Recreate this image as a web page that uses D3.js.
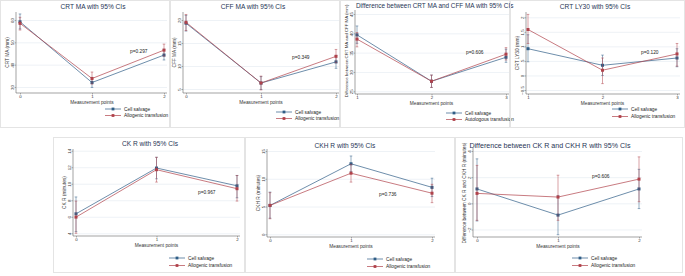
<!DOCTYPE html>
<html>
<head>
<meta charset="utf-8">
<script src="https://cdn.jsdelivr.net/npm/d3@7"></script>
<style>
  body { margin: 0; background: #fff; }
  svg { display: block; font-family: "Liberation Sans", Arial, sans-serif; }
</style>
</head>
<body>
<svg id="chart" width="685" height="276"></svg>
<script>
// series values: mean per measurement point + 95% CI [lo, hi]
const crtMaSalvage = [59.2, 32.0, 44.3];
const crtMaSalvageCI = [[56.0, 62.7], [29.8, 34.3], [42.1, 46.9]];
const crtMaAllo = [58.5, 33.8, 46.5];
const crtMaAlloCI = [[55.5, 61.2], [31.3, 36.7], [43.8, 49.2]];

const cffMaSalvage = [19.3, 6.3, 10.9];
const cffMaSalvageCI = [[17.6, 21.0], [4.9, 7.7], [9.5, 12.3]];
const cffMaAllo = [19.5, 6.3, 12.1];
const cffMaAlloCI = [[17.7, 21.2], [4.8, 7.8], [10.7, 13.6]];

const diffMaSalvage = [39.6, 27.6, 33.8];
const diffMaSalvageCI = [[37.4, 41.9], [26.0, 29.2], [32.5, 35.9]];
const diffMaAuto = [38.5, 27.6, 34.6];
const diffMaAutoCI = [[36.5, 40.2], [26.0, 29.2], [33.1, 36.3]];

const ly30Salvage = [0.92, 0.35, 0.6];
const ly30SalvageCI = [[0.47, 1.4], [0.0, 0.7], [0.3, 0.92]];
const ly30Allo = [1.58, 0.18, 0.74];
const ly30AlloCI = [[1.1, 2.1], [-0.28, 0.6], [0.32, 1.1]];

const ckRSalvage = [6.36, 11.9, 9.75];
const ckRSalvageCI = [[4.2, 8.4], [10.6, 13.2], [8.3, 11.0]];
const ckRAllo = [5.96, 11.7, 9.4];
const ckRAlloCI = [[4.0, 7.9], [10.2, 13.2], [7.9, 11.0]];

const ckhRSalvage = [5.2, 12.7, 8.45];
const ckhRSalvageCI = [[2.9, 7.6], [11.3, 14.1], [6.8, 10.1]];
const ckhRAllo = [5.2, 11.0, 7.4];
const ckhRAlloCI = [[2.8, 7.5], [9.4, 12.6], [5.7, 9.0]];

const diffRSalvage = [1.1, -0.9, 1.1];
const diffRSalvageCI = [[-1.35, 3.4], [-2.4, 0.6], [-0.4, 2.6]];
const diffRAllo = [0.76, 0.48, 1.85];
const diffRAlloCI = [[-1.3, 2.9], [-1.3, 2.15], [0.12, 3.55]];

const pointsA = [0, 1, 2];
const pointsB = [1, 2, 3];
const legendAllo = ["Cell salvage", "Allogenic transfusion"];
const legendAuto = ["Cell salvage", "Autologous transfusion"];

const blue = "#2f5d86", red = "#b0424b";
const svg = d3.select("#chart");

function panel(c) {
  const g = svg.append("g");
  g.append("rect").attr("x", c.frame[0] + 0.5).attr("y", c.frame[1] + 0.5)
    .attr("width", c.frame[2] - 1).attr("height", c.frame[3] - 1)
    .attr("fill", "none").attr("stroke", "#e4e4e4");

  const x = d3.scaleLinear().domain(d3.extent(c.points)).range([c.x0, c.x2]);
  const y = d3.scaleLinear().domain([c.ticks[0], c.ticks[c.ticks.length - 1]]).range(c.yPx);

  // gridlines
  g.append("g").attr("transform", `translate(${c.axisX},0)`)
    .call(d3.axisLeft(y).tickValues(c.ticks).tickSize(-(c.right - c.axisX)).tickFormat(""))
    .call(s => s.select(".domain").remove())
    .call(s => s.selectAll("line").attr("stroke", "#e3eaf0").attr("stroke-width", 0.6));

  // y axis, labels turned like Stata's vertical tick labels
  const ya = g.append("g").attr("transform", `translate(${c.axisX},0)`)
    .call(d3.axisLeft(y).tickValues(c.ticks).tickSize(1.5).tickPadding(1).tickFormat(c.fmt || d3.format("")));
  ya.select(".domain").attr("d", `M0,${c.top}V${c.axisY}`).attr("stroke", "#666").attr("stroke-width", 0.6);
  ya.selectAll(".tick line").attr("stroke", "#666").attr("stroke-width", 0.5);
  ya.selectAll(".tick text").attr("font-size", 4.4).attr("fill", "#333")
    .attr("transform", "rotate(-90)").attr("x", 0).attr("y", -2.2).attr("dy", 0)
    .attr("text-anchor", "middle");

  // x axis
  const xa = g.append("g").attr("transform", `translate(0,${c.axisY})`)
    .call(d3.axisBottom(x).tickValues(c.points).tickSize(1.5).tickPadding(0.8).tickFormat(d3.format("d")));
  xa.select(".domain").attr("d", `M${c.axisX},0H${c.right}`).attr("stroke", "#666").attr("stroke-width", 0.6);
  xa.selectAll(".tick line").attr("stroke", "#666").attr("stroke-width", 0.5);
  xa.selectAll(".tick text").attr("font-size", 4.4).attr("fill", "#333");

  g.append("text").attr("x", (c.x0 + c.x2) / 2).attr("y", c.axisY + 11)
    .attr("text-anchor", "middle").attr("font-size", 4.8).attr("fill", "#333")
    .text("Measurement points");
  const ylabY = c.ylabY || (c.top + c.axisY) / 2;
  g.append("text").attr("transform", `translate(${c.axisX - 6.8},${ylabY}) rotate(-90)`)
    .attr("text-anchor", "middle").attr("font-size", c.ylabSize || 4.8).attr("fill", "#333").text(c.ylab);

  g.append("text").attr("x", c.titleX).attr("y", c.titleY)
    .attr("text-anchor", c.titleAnchor || "middle").attr("font-size", c.titleSize || 6.6)
    .attr("fill", "#1f3555").text(c.title);

  const series = [
    { vals: c.s1, ci: c.s1ci, color: blue },
    { vals: c.s2, ci: c.s2ci, color: red }
  ];
  series.forEach(s => {
    const pts = c.points.map((p, i) => ({ p, v: s.vals[i], lo: s.ci[i][0], hi: s.ci[i][1] }));
    g.append("path").datum(pts)
      .attr("d", d3.line().x(d => x(d.p)).y(d => y(d.v)))
      .attr("fill", "none").attr("stroke", s.color).attr("stroke-width", 0.7);
    const eb = g.selectAll(null).data(pts).enter().append("g").attr("stroke", s.color).attr("stroke-width", 0.5);
    eb.append("line").attr("x1", d => x(d.p)).attr("x2", d => x(d.p)).attr("y1", d => y(d.lo)).attr("y2", d => y(d.hi));
    eb.append("line").attr("x1", d => x(d.p) - 1.3).attr("x2", d => x(d.p) + 1.3).attr("y1", d => y(d.lo)).attr("y2", d => y(d.lo));
    eb.append("line").attr("x1", d => x(d.p) - 1.3).attr("x2", d => x(d.p) + 1.3).attr("y1", d => y(d.hi)).attr("y2", d => y(d.hi));
    g.selectAll(null).data(pts).enter().append("rect")
      .attr("x", d => x(d.p) - 1.5).attr("y", d => y(d.v) - 1.5).attr("width", 3).attr("height", 3)
      .attr("fill", s.color);
  });

  g.append("text").attr("x", c.pPos[0]).attr("y", c.pPos[1]).attr("font-size", 4.8).attr("fill", "#222").text(c.p);

  // legend
  c.legend.forEach((name, i) => {
    const ly = c.legY + i * c.legGap;
    const col = i === 0 ? blue : red;
    g.append("line").attr("x1", c.legX).attr("x2", c.legX + c.legW).attr("y1", ly).attr("y2", ly)
      .attr("stroke", col).attr("stroke-width", 0.7);
    g.append("rect").attr("x", c.legX + c.legW / 2 - 1.4).attr("y", ly - 1.4).attr("width", 2.8).attr("height", 2.8).attr("fill", col);
    g.append("text").attr("x", c.legX + c.legW + 3).attr("y", ly + 1.7).attr("font-size", 4.8).attr("fill", "#222").text(name);
  });
}

panel({ frame: [0, 0, 170, 128], points: pointsA, x0: 20, x2: 164, axisX: 16, right: 167, top: 12, axisY: 93,
  ticks: [60, 50, 40, 30], yPx: [20, 87], ylab: "CRT MA (mm)",
  title: "CRT MA with 95% CIs", titleX: 93, titleY: 9,
  s1: crtMaSalvage, s1ci: crtMaSalvageCI, s2: crtMaAllo, s2ci: crtMaAlloCI,
  p: "p=0.297", pPos: [130, 53], legend: legendAllo, legX: 105, legY: 109, legGap: 6.5, legW: 16 });

panel({ frame: [170, 0, 170, 128], points: pointsA, x0: 186, x2: 336, axisX: 183, right: 339, top: 12, axisY: 93,
  ticks: [20, 15, 10, 5], yPx: [20, 89], ylab: "CFF MA (mm)",
  title: "CFF MA with 95% CIs", titleX: 253, titleY: 9,
  s1: cffMaSalvage, s1ci: cffMaSalvageCI, s2: cffMaAllo, s2ci: cffMaAlloCI,
  p: "p=0.349", pPos: [292, 59], legend: legendAllo, legX: 276, legY: 112, legGap: 6.5, legW: 16 });

panel({ frame: [340, 0, 170, 128], points: pointsB, x0: 357, x2: 506, axisX: 355, right: 509, top: 10, axisY: 94,
  ticks: [45, 40, 35, 30, 25], yPx: [14, 91.3], ylab: "Difference between CRT MA and CFF MA (mm)", ylabSize: 4.4, ylabY: 51,
  title: "Difference between CRT MA and CFF MA with 95% CIs", titleX: 356, titleY: 8, titleAnchor: "start", titleSize: 6.4,
  s1: diffMaSalvage, s1ci: diffMaSalvageCI, s2: diffMaAuto, s2ci: diffMaAutoCI,
  p: "p=0.606", pPos: [466, 54], legend: legendAuto, legX: 446, legY: 113, legGap: 6.5, legW: 16 });

panel({ frame: [510, 0, 175, 128], points: pointsB, x0: 528, x2: 677, axisX: 526, right: 680, top: 12, axisY: 94,
  ticks: [2, 1.5, 1, 0.5, 0, -0.5], yPx: [17.3, 90], ylab: "CRT LY30 (mm)",
  fmt: d => d3.format("")(d).replace(/^0\./, ".").replace(/^-0\./, "-."),
  title: "CRT LY30 with 95% CIs", titleX: 595, titleY: 9,
  s1: ly30Salvage, s1ci: ly30SalvageCI, s2: ly30Allo, s2ci: ly30AlloCI,
  p: "p=0.120", pPos: [641, 54], legend: legendAllo, legX: 612, legY: 109, legGap: 7.5, legW: 16 });

panel({ frame: [53, 137, 192, 136], points: pointsA, x0: 76, x2: 237, axisX: 73, right: 240, top: 149, axisY: 236,
  ticks: [14, 12, 10, 8, 6, 4], yPx: [150.7, 233.3], ylab: "CK R (minutes)",
  title: "CK R with 95% CIs", titleX: 150, titleY: 146,
  s1: ckRSalvage, s1ci: ckRSalvageCI, s2: ckRAllo, s2ci: ckRAlloCI,
  p: "p=0.967", pPos: [198, 194], legend: legendAllo, legX: 169, legY: 258, legGap: 7.5, legW: 16 });

panel({ frame: [245, 137, 210, 136], points: pointsA, x0: 270, x2: 432, axisX: 267, right: 435, top: 149, axisY: 237,
  ticks: [15, 10, 5, 0], yPx: [151, 234.3], ylab: "CKH R (minutes)",
  title: "CKH R with 95% CIs", titleX: 345, titleY: 148,
  s1: ckhRSalvage, s1ci: ckhRSalvageCI, s2: ckhRAllo, s2ci: ckhRAlloCI,
  p: "p=0.736", pPos: [379, 196], legend: legendAllo, legX: 367, legY: 259, legGap: 7.5, legW: 16 });

panel({ frame: [455, 137, 228, 136], points: pointsA, x0: 477, x2: 639, axisX: 473, right: 642, top: 148, axisY: 237,
  ticks: [4, 2, 0, -2], yPx: [151, 229.5], ylab: "Difference between CK R and CKH R (minutes)", ylabSize: 4.8, ylabY: 193,
  title: "Difference between CK R and CKH R with 95% CIs", titleX: 550, titleY: 148, titleSize: 7.1,
  s1: diffRSalvage, s1ci: diffRSalvageCI, s2: diffRAllo, s2ci: diffRAlloCI,
  p: "p=0.606", pPos: [592, 178], legend: legendAllo, legX: 572, legY: 258, legGap: 7.5, legW: 16 });
</script>
</body>
</html>
